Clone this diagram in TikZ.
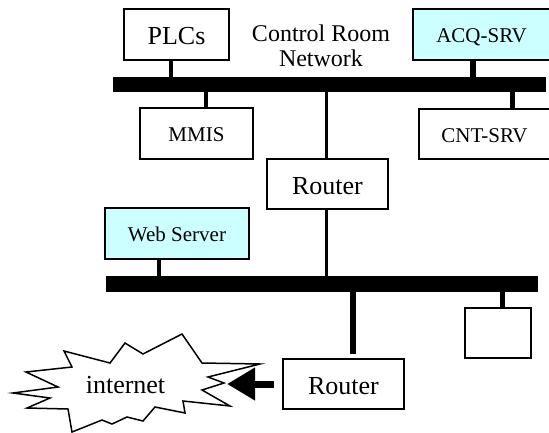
\documentclass[tikz,border=0pt]{standalone}
\usepackage{fontspec}
\setmainfont{Liberation Serif}
\usetikzlibrary{arrows.meta}
\definecolor{srvcyan}{HTML}{CCFFFF}
\begin{document}
\begin{tikzpicture}[x=1pt,y=-1pt,
  box/.style={draw, line width=1.5pt, inner sep=0pt},
  big/.style={font=\fontsize{26}{28}\selectfont, text height=20.2pt, text depth=0pt},
  small/.style={font=\fontsize{21}{24}\selectfont, text height=16.4pt, text depth=0pt},
  srv/.style={fill=srvcyan},
  bus/.style={fill=black, draw=none, inner sep=0pt},
  link/.style={line width=4.5pt},
  thinlink/.style={line width=3pt}]
\useasboundingbox (0,0) rectangle (549,432);

% buses
\node[bus, minimum width=433pt, minimum height=15pt] (bus1) at (329.5,84.5) {};
\node[bus, minimum width=432pt, minimum height=16pt] (bus2) at (322,284) {};

% connector x positions
\coordinate (xplc) at (171,0);
\coordinate (xacq) at (473,0);
\coordinate (xmmis) at (206,0);
\coordinate (xcnt) at (512,0);
\coordinate (xrt) at (326,0);
\coordinate (xweb) at (159,0);
\coordinate (xsmall) at (502,0);
\coordinate (xrt2) at (353,0);

% boxes
\node[box,big,minimum width=105pt,minimum height=51pt] (plc) at (176.5,34.5) {PLCs};
\node[box,small,srv,minimum width=137pt,minimum height=51pt] (acq) at (481.5,34.5) {ACQ-SRV};
\node[box,small,minimum width=113pt,minimum height=51pt] (mmis) at (196.5,133.5) {MMIS};
\node[box,small,minimum width=131pt,minimum height=50pt] (cnt) at (484.5,134) {CNT-SRV};
\node[box,big,minimum width=121pt,minimum height=50pt] (rt1) at (327.5,184) {Router};
\node[box,small,srv,minimum width=144pt,minimum height=51pt] (web) at (177,233.5) {Web Server};
\node[box,minimum width=66pt,minimum height=50pt] (sm) at (498,333) {};
\node[box,big,minimum width=121pt,minimum height=50pt] (rt2) at (343.5,384) {Router};

\node[font=\fontsize{24}{25}\selectfont, align=center, inner sep=0pt] (crn) at (321,46) {Control Room\\Network};

% connectors
\draw[link] (xplc |- plc.south) -- (xplc |- bus1.north);
\draw[line width=6pt] (xacq |- acq.south) -- (xacq |- bus1.north);
\draw[link] (xmmis |- bus1.south) -- (xmmis |- mmis.north);
\draw[line width=5pt] (xcnt |- bus1.south) -- (xcnt |- cnt.north);
\draw[thinlink] (xrt |- bus1.south) -- (xrt |- rt1.north);
\draw[thinlink] (xrt |- rt1.south) -- (xrt |- bus2.north);
\draw[link] (xweb |- web.south) -- (xweb |- bus2.north);
\draw[line width=5pt] (xsmall |- bus2.south) -- (xsmall |- sm.north);
\draw[line width=6pt] (xrt2 |- bus2.south) -- ([yshift=4pt]xrt2 |- rt2.north);

% internet cloud
\draw[line width=1.5pt, fill=white, line join=miter]
  (13,393) -- (58,387) -- (26,372) -- (72,367) -- (64,351) -- (110,363) --
  (125,343) -- (143,354) -- (182,334) -- (202,363) -- (260,364) -- (208,377) --
  (224,383) -- (202,390) -- (230,406) -- (183,401) -- (185,413) -- (155,407) --
  (143,421) -- (127,417) -- (112,424) -- (102,420) -- (72,432) -- (68,409) --
  (27,408) -- (50,398) -- cycle;
\node[big, inner sep=0pt] (inet) at (125.5,383) {internet};

% arrow from router to internet
\coordinate (tip) at (227,384);
\draw[line width=7pt, -{Triangle[length=28pt,width=31pt]}] ([xshift=-8pt]rt2.west) -- (tip);
\end{tikzpicture}
\end{document}
